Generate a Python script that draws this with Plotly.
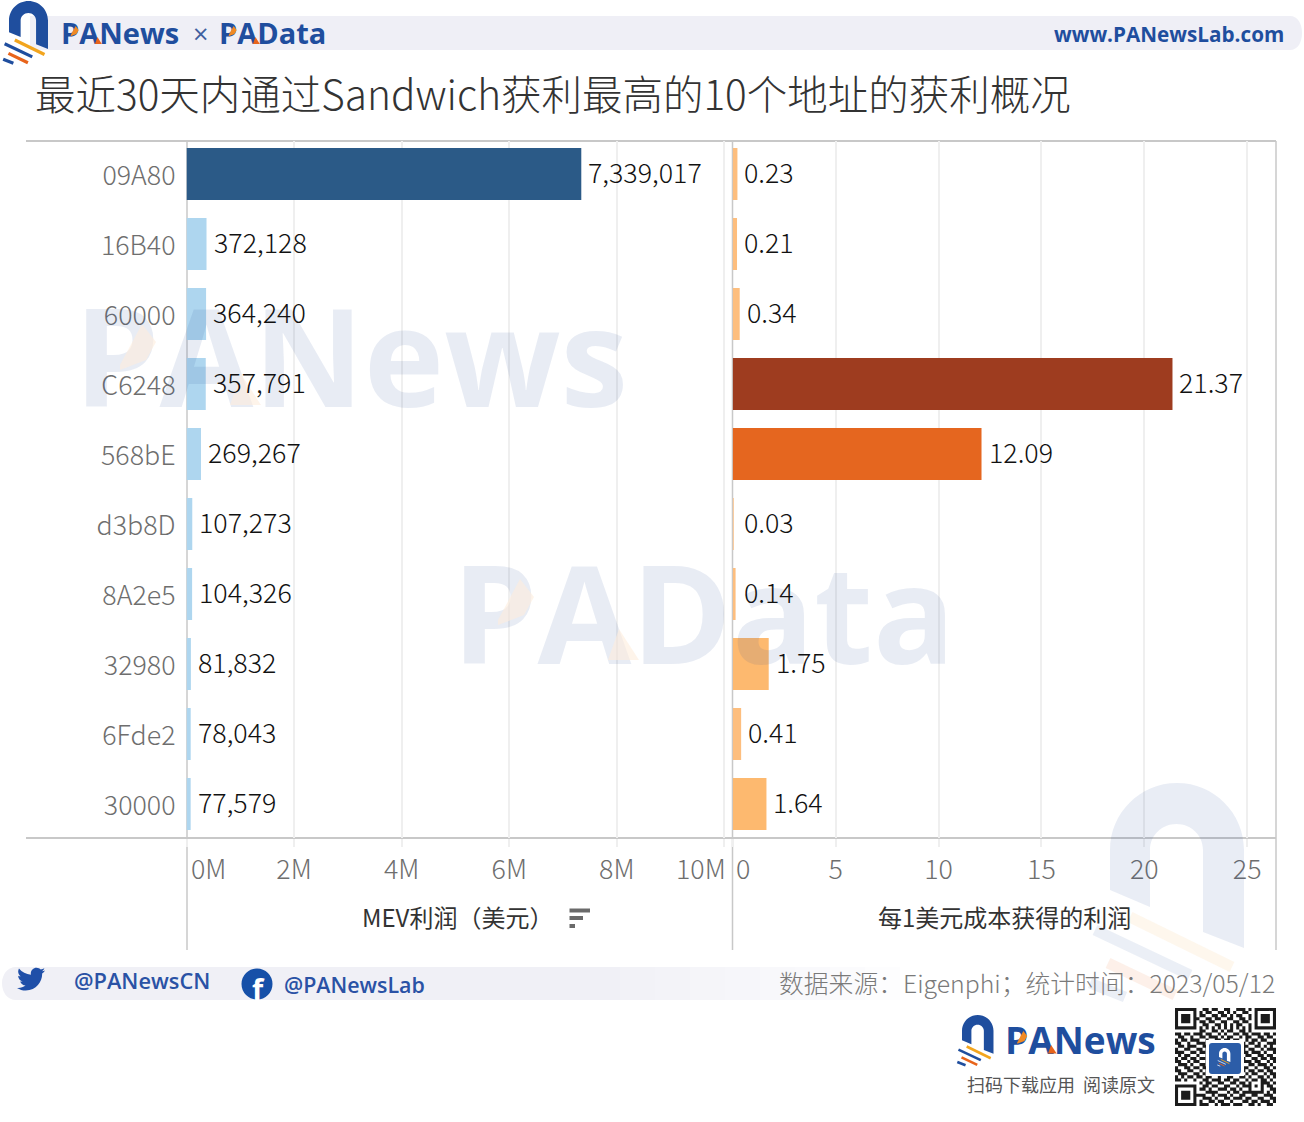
import plotly.graph_objects as go

W, H = 1304, 1122
CJK = "Noto Sans CJK SC"
BLUE = "#1f4e9e"

# chart data
addresses = ["09A80", "16B40", "60000", "C6248", "568bE", "d3b8D", "8A2e5", "32980", "6Fde2", "30000"]
mev_profit = [7339017, 372128, 364240, 357791, 269267, 107273, 104326, 81832, 78043, 77579]
profit_per_dollar = [0.23, 0.21, 0.34, 21.37, 12.09, 0.03, 0.14, 1.75, 0.41, 1.64]
mev_colors = ["#2b5a87"] + ["#aed6ef"] * 9
ratio_colors = ["#fdbe7e", "#fdbe7e", "#fdbe7e", "#9e3c1f", "#e5661f", "#fdbe7e", "#fdbe7e", "#fdb96f", "#fdbe7e", "#fdb96f"]

mev_ticks = [0, 2000000, 4000000, 6000000, 8000000, 10000000]
mev_ticktext = ["", "2M", "4M", "6M", "8M", ""]
ratio_ticks = [0, 5, 10, 15, 20, 25]
ratio_ticktext = ["", "5", "10", "15", "20", "25"]

# rough copy of the QR block in the footer, 1 = dark module
qr_rows = [
    "111111100110110011001110101111111",
    "100000101011001101010011001000001",
    "101110101100110110101100101011101",
    "101110110011011001100110101011101",
    "101110101101100110011011001011101",
    "100000100110011010101100101000001",
    "111111101010101010101010101111111",
    "000000001100110101100110100000000",
    "110110111011001010011011011101101",
    "011001001101110101100101100110110",
    "101101110010011011011001011011001",
    "110010011101100100110110110100111",
    "011011100110011011001011001101010",
    "100110011011000000000110110010111",
    "111001101100100000000011011101001",
    "010110010011000000000101100110110",
    "101101101101000000000110011011011",
    "110010110010000000000011101100101",
    "011101001101000000000100110111010",
    "100110110110000000000111001001101",
    "110011001011000000000010110110110",
    "011100110100110110011101011001011",
    "101011011011001001100110100110101",
    "110100100110111011011001011011010",
    "000000001011001100110110100011101",
    "111111100110110011001011101010110",
    "100000101101001110110100100010011",
    "101110100011110001011011111110101",
    "101110111100101110100110011001110",
    "101110100111010011011101100110011",
    "100000101001101100100011011011101",
    "111111101110010111011100110100110",
    "000000000000000000000000000000000",
]


def xp(x):
    return x / W


def yp(y):
    return 1 - y / H


def path(cmds, ox=0, oy=0, s=1):
    out = []
    for c, pts in cmds:
        # plotly wants one command per segment
        step = 3 if c == "C" else 1
        for i in range(0, len(pts), step):
            chunk = pts[i:i + step]
            out.append(c + " ".join(f"{xp(ox + a * s):.5f},{yp(oy + b * s):.5f}" for a, b in chunk))
    return " ".join(out) + " Z"


shapes = []
notes = []


def poly(cmds, color, ox=0, oy=0, s=1, layer="below"):
    shapes.append(dict(type="path", xref="paper", yref="paper", path=path(cmds, ox, oy, s),
                       fillcolor=color, line=dict(width=0), layer=layer))


def line(x0, y0, x1, y1, color, width, layer="below"):
    shapes.append(dict(type="line", xref="paper", yref="paper", x0=xp(x0), y0=yp(y0), x1=xp(x1), y1=yp(y1),
                       line=dict(color=color, width=width), layer=layer))


def rect(x0, y0, x1, y1, color, layer="below"):
    shapes.append(dict(type="rect", xref="paper", yref="paper", x0=xp(x0), y0=yp(y0), x1=xp(x1), y1=yp(y1),
                       fillcolor=color, line=dict(width=0), layer=layer))


def label(x, y, text, size, color, anchor="left", weight=400, font=CJK):
    notes.append(dict(xref="paper", yref="paper", x=xp(x), y=yp(y), text=text, showarrow=False,
                      xanchor=anchor, yanchor="middle", borderpad=0,
                      font=dict(family=font, size=size, color=color, weight=weight)))


def wordmark(x0, y0, x1, y1, text, size, color, layer="above"):
    # shape label instead of annotation, so the orange cuts can sit on top of the letters
    shapes.append(dict(type="rect", xref="paper", yref="paper", x0=xp(x0), y0=yp(y0), x1=xp(x1), y1=yp(y1),
                       fillcolor="rgba(0,0,0,0)", line=dict(width=0), layer=layer,
                       label=dict(text=text, textposition="middle left", padding=0,
                                  font=dict(family="Open Sans", size=size, color=color, weight=700))))


ARCH = [
    ("M", [(0, 107)]), ("L", [(0, 67)]),
    ("C", [(0, 30), (30, 0), (67, 0)]),
    ("C", [(104, 0), (134, 30), (134, 67)]),
    ("L", [(134, 165), (93, 149), (93, 67)]),
    ("C", [(93, 52), (81, 41), (66.5, 41)]),
    ("C", [(52, 41), (40, 52), (40, 67)]),
    ("L", [(40, 124)]),
]


def logo(ox, oy, s, arch, c1, c2, c3, layer="below"):
    poly(ARCH, arch, ox, oy, s, layer)
    lw = 11 * s
    for (a, b, c, d), col in (((20, 134, 122, 184), c1), ((-15, 147, 80, 192), c2),
                              ((-2, 180, 65, 212), c3), ((-20, 200, 15, 214), c2)):
        line(ox + a * s, oy + b * s, ox + c * s, oy + d * s, col, lw, layer)


def accents(ox, oy, s, c1, c2, layer="below"):
    # orange cuts on the P bowl and the A foot, s = 1 for the big watermark
    poly([("M", [(40, 55)]), ("L", [(62, 14), (76, 32), (66, 50), (40, 60)])], c1, ox, oy, s, layer)
    poly([("M", [(150, 95)]), ("L", [(161, 64), (181, 95)])], c2, ox, oy, s, layer)


# header / footer bands
poly([("M", [(30, 16)]), ("L", [(1290, 16)]), ("C", [(1298, 16), (1302, 24), (1302, 33)]),
      ("C", [(1302, 42), (1298, 50), (1290, 50)]), ("L", [(30, 50)])], "#efeff6")
poly([("M", [(16, 967)]), ("L", [(620, 967), (620, 1000), (16, 1000)]),
      ("C", [(7, 1000), (2, 992), (2, 983)]), ("C", [(2, 975), (7, 967), (16, 967)])], "#f0f0f6")
for i, col in enumerate(["#f2f2f7", "#f3f3f8", "#f5f5f9", "#f6f6fa", "#f8f8fb", "#f9f9fc", "#fbfbfd", "#fdfdfe"]):
    rect(620 + i * 35, 967, 655 + i * 35, 1000, col)

logo(9, 1, 0.291, BLUE, "#f2a51e", BLUE, "#e8641b")
logo(962, 1015, 0.235, BLUE, "#f2a51e", BLUE, "#e8641b")

# watermarks, above the bars like in the original
WM = "rgba(35,75,155,0.105)"
wordmark(71, 315, 640, 411, "PANews", 136, WM)
wordmark(449, 572, 960, 668, "PAData", 136, WM)
logo(1110, 783, 1, "rgba(35,75,155,0.10)", "rgba(245,170,60,0.09)", "rgba(35,75,155,0.09)",
     "rgba(235,110,40,0.10)", layer="above")
accents(80, 310, 1, "rgba(253,236,220,0.6)", "rgba(253,236,220,0.6)", layer="above")
accents(458, 565, 1, "rgba(253,236,220,0.6)", "rgba(253,236,220,0.6)", layer="above")

# header texts
wordmark(58, 18, 190, 50, "PANews", 29, BLUE)
wordmark(216, 18, 340, 50, "PAData", 29, BLUE)
label(200, 34, "×", 27, "#3f5f9f", anchor="center", font="Open Sans")
label(1285, 34, "www.PANewsLab.com", 20.7, BLUE, anchor="right", weight=700, font="Open Sans")
label(34, 92, "最近30天内通过Sandwich获利最高的10个地址的获利概况", 40.5, "#333333", weight=300)

# frame
GRAY = "#c8c8c8"
line(26, 141, 1276, 141, GRAY, 2)
line(26, 838, 1276, 838, GRAY, 2)
line(187, 141, 187, 950, GRAY, 1.5)
line(732.5, 141, 732.5, 950, GRAY, 1.5)
line(1276, 141, 1276, 950, GRAY, 1.5)

# tick labels the original pushes inward at the pane edges
label(190, 868, "0M", 26.8, "#6e6e6e", weight=300)
label(727, 868, "10M", 26.8, "#6e6e6e", anchor="right", weight=300)
label(735, 868, "0", 26.8, "#6e6e6e", weight=300)

# axis titles and sort glyph
label(361, 916, "MEV利润（美元）", 24, "#333333")
label(877, 916, "每1美元成本获得的利润", 24, "#333333")
rect(569.5, 908.5, 590, 912.5, "#6a6a6a")
rect(569.5, 916, 583, 920, "#6a6a6a")
rect(569.5, 924, 575, 928, "#6a6a6a")

# footer
poly([("M", [(24, 4.6)]), ("C", [(23.1, 5), (22.2, 5.3), (21.2, 5.4)]), ("C", [(22.2, 4.8), (23, 3.8), (23.4, 2.7)]),
      ("C", [(22.4, 3.3), (21.4, 3.7), (20.3, 3.9)]), ("C", [(19.4, 2.9), (18.1, 2.3), (16.7, 2.3)]),
      ("C", [(14, 2.3), (11.8, 4.5), (11.8, 7.2)]), ("C", [(11.8, 7.6), (11.8, 8), (11.9, 8.3)]),
      ("C", [(7.8, 8.1), (4.2, 6.1), (1.7, 3.1)]), ("C", [(1.3, 3.9), (1, 4.7), (1, 5.6)]),
      ("C", [(1, 7.3), (1.9, 8.8), (3.2, 9.7)]), ("C", [(2.4, 9.7), (1.6, 9.5), (1, 9.1)]),
      ("C", [(1, 11.5), (2.7, 13.5), (4.9, 14)]), ("C", [(4.2, 14.2), (3.4, 14.2), (2.7, 14.1)]),
      ("C", [(3.3, 16.1), (5.2, 17.5), (7.3, 17.5)]), ("C", [(5.2, 19.1), (2.6, 19.9), (0, 19.6)]),
      ("C", [(2.2, 21), (4.8, 21.8), (7.5, 21.8)]), ("C", [(16.6, 21.8), (21.5, 14.3), (21.5, 7.8)]),
      ("C", [(21.5, 7.6), (21.5, 7.4), (21.5, 7.2)]), ("C", [(22.5, 6.5), (23.3, 5.6), (24, 4.6)])],
     "#1f4fa8", 17, 965, 1.17)
shapes.append(dict(type="circle", xref="paper", yref="paper", x0=xp(241.5), x1=xp(272.5), y0=yp(999.5), y1=yp(968.5),
                   fillcolor="#1650a8", line=dict(width=0), layer="below"))
label(258, 988, "f", 29, "white", anchor="center", weight=700, font="Open Sans")
label(73, 980, "@PANewsCN", 21.8, "#2a52a5", weight=600, font="Open Sans")
label(283, 984, "@PANewsLab", 21.4, "#2a52a5", weight=600, font="Open Sans")
label(1276, 982, "数据来源：Eigenphi；统计时间：2023/05/12", 24.8, "#7a7a7a", anchor="right", weight=300)

wordmark(1002, 1023, 1170, 1061, "PANews", 37, BLUE)
label(1156, 1084, "扫码下载应用  阅读原文", 18, "#555555", anchor="right")

# small logo accents, on top of the wordmarks
for ox, oy, s in ((62, 23, 0.22), (220, 23, 0.22), (1006, 1027, 0.28)):
    accents(ox, oy, s, "#f08a24", "#e8641b", layer="above")

# QR block
qx, qy, qm = 1175, 1008, 101 / 33
qr_path = []
for r, row in enumerate(qr_rows):
    for c, v in enumerate(row):
        if v == "1":
            qr_path.append(path([("M", [(qx + c * qm, qy + r * qm)]),
                                 ("L", [(qx + (c + 1) * qm, qy + r * qm), (qx + (c + 1) * qm, qy + (r + 1) * qm),
                                        (qx + c * qm, qy + (r + 1) * qm)])]))
shapes.append(dict(type="path", xref="paper", yref="paper", path=" ".join(qr_path),
                   fillcolor="#1c1c1c", line=dict(width=0), layer="below"))
rect(1206, 1040, 1244, 1076, "white")
poly([("M", [(1212, 1043)]), ("L", [(1238, 1043)]), ("C", [(1240, 1043), (1241, 1044), (1241, 1046)]),
      ("L", [(1241, 1071)]), ("C", [(1241, 1073), (1240, 1074), (1238, 1074)]), ("L", [(1212, 1074)]),
      ("C", [(1210, 1074), (1209, 1073), (1209, 1071)]), ("L", [(1209, 1046)]),
      ("C", [(1209, 1044), (1210, 1043), (1212, 1043)])], "#2c5da8")
logo(1219, 1048, 0.085, "white", "#f2a51e", "#cfdcf2", "#e8641b")

# value labels next to the bar ends; y is the row number because names like 60000
# would be read as numbers on a category axis
for i, v in enumerate(mev_profit):
    notes.append(dict(xref="x", yref="y", x=v, y=i, text=f"{v:,}", showarrow=False, xanchor="left", yanchor="middle",
                      xshift=6, yshift=2, borderpad=0, font=dict(family=CJK, size=26.8, color="#111111", weight=300)))
for i, v in enumerate(profit_per_dollar):
    notes.append(dict(xref="x2", yref="y2", x=v, y=i, text=f"{v:.2f}", showarrow=False, xanchor="left", yanchor="middle",
                      xshift=max(6, 10 - v * 20.58), yshift=2, borderpad=0,
                      font=dict(family=CJK, size=26.8, color="#111111", weight=300)))

fig = go.Figure()

fig.add_trace(go.Bar(
    x=mev_profit, y=addresses, orientation="h", xaxis="x", yaxis="y",
    marker=dict(color=mev_colors, line=dict(width=0)), width=0.743,
))
fig.add_trace(go.Bar(
    x=profit_per_dollar, y=addresses, orientation="h", xaxis="x2", yaxis="y2",
    marker=dict(color=ratio_colors, line=dict(width=0)), width=0.743,
))

x_style = dict(showgrid=True, gridcolor="#efefef", gridwidth=1.5, zeroline=False, showline=False,
               ticks="outside", ticklen=8, tickcolor="#efefef", tickwidth=1.5,
               tickfont=dict(family=CJK, size=26.8, color="#6e6e6e", weight=300), tickmode="array", anchor="y")
y_range = [9.486, -0.471]

fig.update_layout(
    width=W, height=H, margin=dict(l=0, r=0, t=0, b=0),
    paper_bgcolor="white", plot_bgcolor="rgba(0,0,0,0)", showlegend=False,
    xaxis=dict(x_style, domain=[xp(186.5), xp(732.5)], range=[0, 10150000], tickvals=mev_ticks, ticktext=mev_ticktext),
    xaxis2=dict(x_style, domain=[xp(732.7), xp(1276)], range=[0, 26.4], tickvals=ratio_ticks, ticktext=ratio_ticktext, anchor="y2"),
    yaxis=dict(domain=[yp(838), yp(141)], range=y_range, type="category", categoryorder="array", categoryarray=addresses,
               showgrid=False, zeroline=False, showline=False, ticks="", ticklabelstandoff=10, ticklabelshift=-2,
               tickfont=dict(family=CJK, size=26.8, color="#6e6e6e", weight=300), anchor="x"),
    yaxis2=dict(domain=[yp(838), yp(141)], range=y_range, type="category", categoryorder="array", categoryarray=addresses,
                showgrid=False, zeroline=False, showline=False, showticklabels=False, anchor="x2"),
    shapes=shapes, annotations=notes,
)

fig.write_html("out.html", config=dict(displayModeBar=False),
               post_script="document.body.style.margin='0';document.documentElement.style.overflow='hidden';")
